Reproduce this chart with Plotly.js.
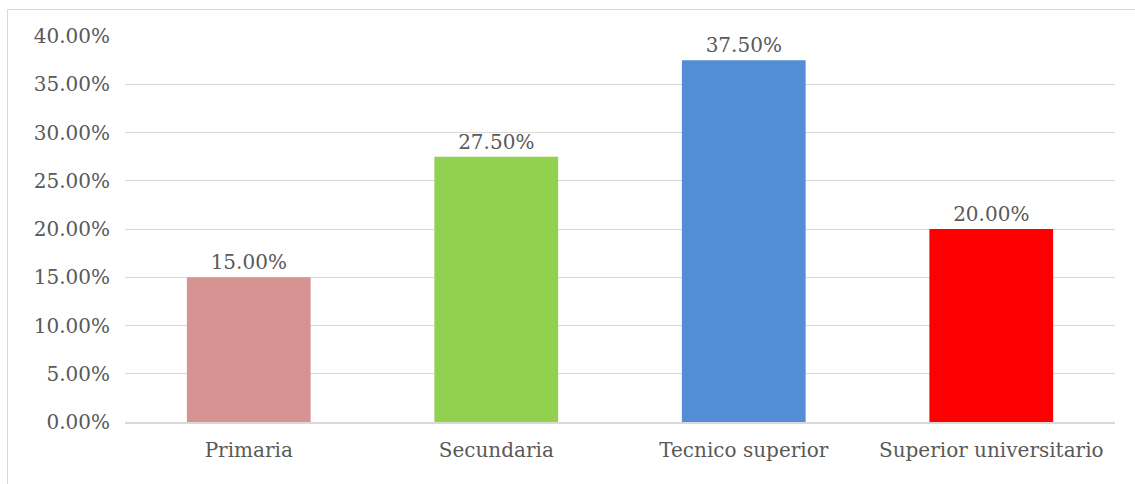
<!DOCTYPE html>
<html>
<head>
<meta charset="utf-8">
<script src="https://cdn.plot.ly/plotly-3.0.1.min.js"></script>
<style>
  html, body { margin: 0; padding: 0; background: #fff; }
  #chart { width: 1135px; height: 484px; position: relative; }
  #frame { position: absolute; left: 7px; top: 9px; width: 1140px; height: 480px;
           border-left: 1px solid #d9d9d9; border-top: 1px solid #d9d9d9; pointer-events: none; }
</style>
</head>
<body>
<div id="chart"></div>
<div id="frame"></div>
<script>
const categories = ["Primaria", "Secundaria", "Tecnico superior", "Superior universitario"];
const values = [15.00, 27.50, 37.50, 20.00];
const barColors = ["#d69392", "#92d050", "#538dd5", "#ff0000"];
const tickValues = [0, 5, 10, 15, 20, 25, 30, 35, 40];
const tickLabels = tickValues.map(v => v.toFixed(2) + "%");

const font = "DejaVu Serif, serif";
const fsize = 20;

const trace = {
  type: "bar",
  x: categories,
  y: values,
  marker: { color: barColors },
  text: values.map(v => v.toFixed(2) + "%"),
  textposition: "outside",
  cliponaxis: false,
  textfont: { family: font, size: fsize, color: "#595959" },
  hoverinfo: "none"
};

const layout = {
  width: 1135,
  height: 484,
  margin: { l: 125, r: 20, t: 36, b: 62 },
  paper_bgcolor: "#ffffff",
  plot_bgcolor: "#ffffff",
  bargap: 0.5,
  showlegend: false,
  font: { family: font, size: fsize, color: "#595959" },
  xaxis: {
    showgrid: false,
    showline: true,
    linecolor: "#d9d9d9",
    linewidth: 2,
    ticks: "",
    tickfont: { family: font, size: fsize, color: "#595959" },
    ticklabelstandoff: 9
  },
  yaxis: {
    range: [0, 40],
    tickvals: tickValues,
    ticktext: tickLabels,
    showgrid: true,
    gridcolor: "#d9d9d9",
    gridwidth: 1,
    zeroline: false,
    showline: false,
    ticks: "",
    ticklabelstandoff: 14,
    tickfont: { family: font, size: fsize, color: "#595959" }
  }
};

Plotly.newPlot("chart", [trace], layout, { displayModeBar: false, staticPlot: true });
</script>
</body>
</html>
